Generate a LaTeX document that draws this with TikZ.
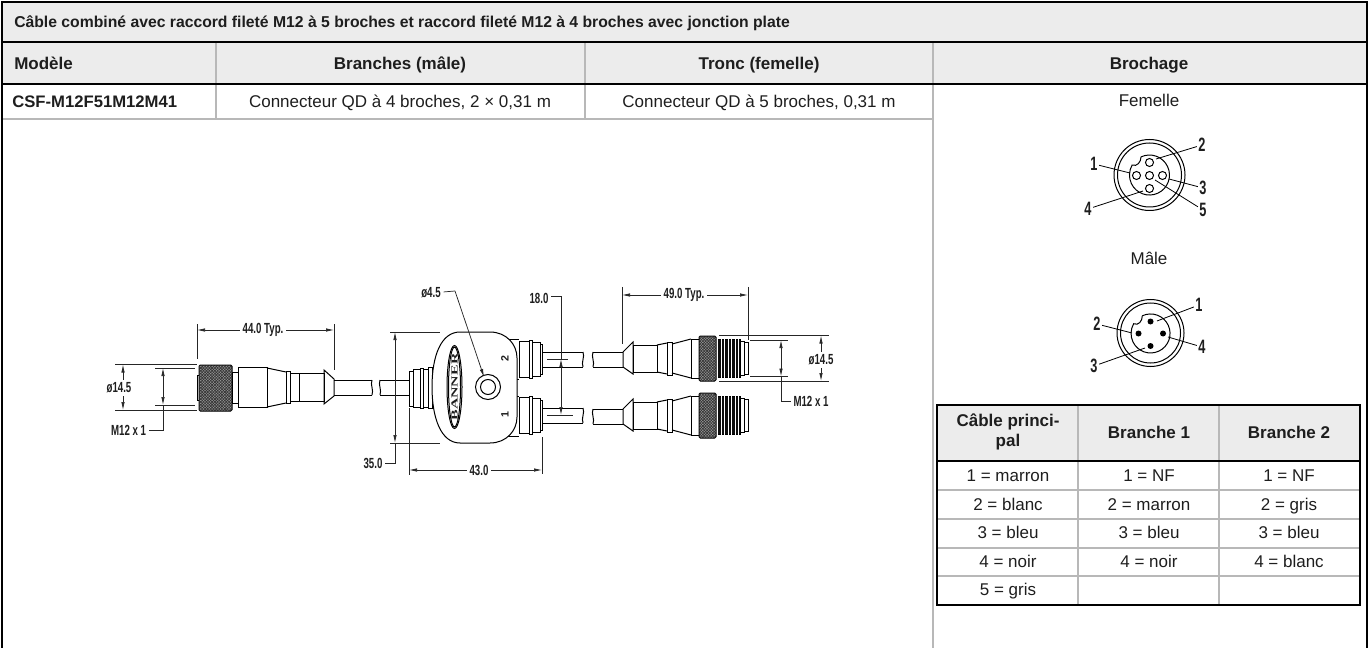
\documentclass[tikz,border=0pt]{standalone}
\usepackage{fontspec}
\setmainfont{Liberation Sans}
\newfontfamily\dimfont[FakeStretch=0.66]{Liberation Sans}
\newfontfamily\logofont[FakeStretch=1.7]{Liberation Serif}
\usepackage{xcolor}
\usepackage{tikz}
\usetikzlibrary{arrows.meta}
\usetikzlibrary{patterns.meta}
\definecolor{bandgray}{HTML}{ECECEC}
\definecolor{rulegray}{HTML}{B8B8B8}
\definecolor{inkgray}{HTML}{1E1E1E}

\begin{document}
\begin{tikzpicture}[x=0.75pt,y=-0.75pt,
      every node/.style={inner sep=1.5pt, text=inkgray, font=\fontsize{12.75}{15}\selectfont},
      cell/.style={anchor=base},
      head/.style={font=\fontsize{12.75}{15}\selectfont\bfseries},
      heavy/.style={line width=2.2pt, black},
      soft/.style={line width=1.4pt, rulegray},
      part/.style={line width=0.75pt, black},
      dim/.style={line width=0.55pt, black!85},
      dimtip/.style={dim, -{Latex[length=6pt,width=2.6pt]}},
      dimtips/.style={dim, {Latex[length=6pt,width=2.6pt]}-{Latex[length=6pt,width=2.6pt]}},
      dimtext/.style={inner sep=2pt, font=\fontsize{11}{12}\dimfont\bfseries},
      pinno/.style={inner sep=1pt, font=\fontsize{14.5}{15}\dimfont\bfseries},
      pinline/.style={line width=0.6pt, black},
      knurl/.style={part, rounded corners=1pt, preaction={fill=black!40},
        pattern={Lines[angle=45,distance=1.5pt,line width=0.5pt]}, pattern color=black!80,
        postaction={pattern={Lines[angle=-45,distance=1.5pt,line width=0.5pt]}, pattern color=black!80}},
      thread/.style={part, fill=black!95,
        postaction={pattern={Lines[angle=90,distance=2.6pt,line width=0.25pt]}, pattern color=white}},
      % connector on the far end of a branch
      malecord/.pic={
        \draw[part] (593,352) -- (623,352) (593,367) -- (623,367);
        \draw[part] (593,352) .. controls (591,357) and (595,362) .. (593,367);
        \draw[part] (623,352) -- (633,342) -- (633,374) -- (623,367) -- cycle;
        \draw[part] (633,345) rectangle (657,372);
        \draw[part] (657,345) -- (667,343) (657,372) -- (667,374);
        \draw[part] (667,342) rectangle (672,375);
        \draw[part] (672,344) -- (691,339) (672,373) -- (691,378);
        \draw[part] (691,339) rectangle (699,378);
        \draw[knurl] (699,336) rectangle (716,381);
        \draw[thread] (717,339) rectangle (740,377);
        \draw[part] (740,341) rectangle (744,375);
        \draw[part] (744,342) rectangle (748,374);
      },
      % socket on the junction with its stub of cable
      hubplug/.pic={
        \draw[part] (542,352) -- (583,352) (542,367) -- (583,367);
        \draw[part] (583,352) .. controls (585,357) and (581,362) .. (583,367);
        \draw[part] (519,341) rectangle (529,377);
        \draw[part] (529,340) rectangle (532,378);
        \draw[part] (532,342) rectangle (540,376);
        \draw[part] (540,344) rectangle (542,374);
      }]

      \useasboundingbox (0,0) rectangle (1369,648);

      % table
      \fill[bandgray] (2,2) rectangle (1367,84);
      \draw[soft] (216,43) -- (216,119);
      \draw[soft] (585,43) -- (585,119);
      \draw[soft] (933,43) -- (933,648);
      \draw[soft] (2,119) -- (933,119);
      \draw[heavy] (2,648) -- (2,2) -- (1367,2) -- (1367,648);
      \draw[heavy] (2,42) -- (1367,42);
      \draw[heavy] (2,84) -- (1367,84);

      \node[anchor=base west, font=\fontsize{11.8}{14}\selectfont\bfseries] (title) at (12,28) {Câble combiné avec raccord fileté M12 à 5 broches et raccord fileté M12 à 4 broches avec jonction plate};
      \node[head, anchor=base west] (modele) at (12,69.5) {Modèle};
      \node[head, cell] (branches) at (400,69.5) {Branches (mâle)};
      \node[head, cell] (tronc) at (759,69.5) {Tronc (femelle)};
      \node[head, cell] (brochage) at (1149,69.5) {Brochage};
      \node[anchor=base west, font=\fontsize{12.5}{15}\selectfont\bfseries] (ref) at (10,108) {CSF-M12F51M12M41};
      \node[cell] (qd4) at (400,108) {Connecteur QD à 4 broches, 2 × 0,31 m};
      \node[cell] (qd5) at (759,108) {Connecteur QD à 5 broches, 0,31 m};
      \node[cell] (femelle) at (1149,106.5) {Femelle};
      \node[cell] (male) at (1149,264.5) {Mâle};

      % colour table
      \fill[bandgray] (937,405) rectangle (1360,461);
      \draw[soft] (1078,405) -- (1078,605);
      \draw[soft] (1219,405) -- (1219,605);
      \draw[soft] (937,490) -- (1360,490);
      \draw[soft] (937,519) -- (1360,519);
      \draw[soft] (937,548) -- (1360,548);
      \draw[soft] (937,576) -- (1360,576);
      \draw[heavy] (937,405) rectangle (1360,605);
      \draw[heavy] (937,461) -- (1360,461);

      \node[head, align=center] (main) at (1008,432) {Câble princi-\\pal};
      \node[head, cell] (bone) at (1149,438) {Branche 1};
      \node[head, cell] (btwo) at (1289,438) {Branche 2};
      \node[cell] (m1) at (1008,481.5) {1 = marron};
      \node[cell] (m2) at (1008,510) {2 = blanc};
      \node[cell] (m3) at (1008,538.5) {3 = bleu};
      \node[cell] (m4) at (1008,567) {4 = noir};
      \node[cell] (m5) at (1008,595.5) {5 = gris};
      \node[cell] (a1) at (1149,481.5) {1 = NF};
      \node[cell] (a2) at (1149,510) {2 = marron};
      \node[cell] (a3) at (1149,538.5) {3 = bleu};
      \node[cell] (a4) at (1149,567) {4 = noir};
      \node[cell] (b1) at (1289,481.5) {1 = NF};
      \node[cell] (b2) at (1289,510) {2 = gris};
      \node[cell] (b3) at (1289,538.5) {3 = bleu};
      \node[cell] (b4) at (1289,567) {4 = blanc};

      % female face
      \draw[part] (1149.5,175) circle (35.5);
      \draw[part] (1149.5,175) circle (32);
      \draw[part] (1141,156.9) arc (-115:210:20) .. controls (1137,167) and (1141,162) .. (1141,156.9);
      \draw[part] (1149.5,162.5) circle (4);
      \draw[part] (1136.5,175.5) circle (4);
      \draw[part] (1149.5,175.5) circle (4);
      \draw[part] (1162.5,175.5) circle (4);
      \draw[part] (1149.5,188.5) circle (4);

      \node[pinno] (f1) at (1094,164) {1};
      \node[pinno] (f2) at (1202,145) {2};
      \node[pinno] (f3) at (1203,188) {3};
      \node[pinno] (f4) at (1088,209) {4};
      \node[pinno] (f5) at (1203,210) {5};
      \coordinate (fp1) at (1130,173);
      \coordinate (fp2) at (1156,159);
      \coordinate (fp3) at (1169,179);
      \coordinate (fp4) at (1143,191);
      \coordinate (fp5) at (1155,180);
      \path[pinline]
        (f1) edge (fp1)
        (f2) edge (fp2)
        (f3) edge (fp3)
        (f4) edge (fp4)
        (f5) edge (fp5)
        ;

      % male face
      \draw[part] (1150.5,333) circle (33.5);
      \draw[part] (1150.5,333) circle (30);
      \draw[part] (1142.3,315.8) arc (-115:210:19.5) .. controls (1138.5,326) and (1142.3,321) .. (1142.3,315.8);
      \fill[black] (1150.5,321.5) circle (3);
      \fill[black] (1138.5,333.5) circle (3);
      \fill[black] (1163,333.5) circle (3);
      \fill[black] (1150.5,346) circle (3);

      \node[pinno] (p1) at (1199,305) {1};
      \node[pinno] (p2) at (1097,324) {2};
      \node[pinno] (p3) at (1094,366) {3};
      \node[pinno] (p4) at (1202,347) {4};
      \coordinate (pp1) at (1157,321);
      \coordinate (pp2) at (1132,333);
      \coordinate (pp3) at (1145,348);
      \coordinate (pp4) at (1168,337);
      \path[pinline]
        (p1) edge (pp1)
        (p2) edge (pp2)
        (p3) edge (pp3)
        (p4) edge (pp4)
        ;

      % trunk connector
      \draw[part] (197,375) rectangle (199,400);
      \draw[knurl] (199,365) rectangle (232,411);
      \draw[part] (232,372) rectangle (238,403);
      \draw[part] (238,367) rectangle (267,407);
      \draw[part] (267,368) -- (286,372) (267,407) -- (286,403);
      \draw[part] (286,371) rectangle (290,403);
      \draw[part] (290,373.5) rectangle (299,401);
      \draw[part] (299,373.5) rectangle (324,401);
      \draw[part] (324,370) -- (334,379) -- (334,396) -- (324,404) -- cycle;
      \draw[part] (334,380) -- (372,380) (334,395) -- (372,395);
      \draw[part] (372,380) .. controls (370,385) and (374,390) .. (372,395);

      % trunk stub and its socket
      \draw[part] (380,380) -- (409,380) (380,395) -- (409,395);
      \draw[part] (380,380) .. controls (378,385) and (382,390) .. (380,395);
      \draw[part] (409,371) rectangle (413,406);
      \draw[part] (413,369) rectangle (420,407);
      \draw[part] (420,368) rectangle (423,408);
      \draw[part] (423,369) rectangle (428,407);
      \draw[part] (428,367) rectangle (432,408);

      % junction body
      \draw[part] (505,339) -- (519,339) (516,379) -- (519,379);
      \draw[part] (516,396) -- (519,396) (505,436) -- (519,436);
      \draw[part, fill=white] (460,332) -- (490,332) .. controls (506,332) and (517,344) .. (517,358)
        -- (517,417) .. controls (517,431) and (506,443) .. (490,443) -- (460,443)
        .. controls (441,443) and (432,418) .. (432,387) .. controls (432,356) and (441,332) .. (460,332) -- cycle;
      \draw[part] (454.5,387) ellipse (7.5 and 41.5);
      \draw[part] (454.5,387) ellipse (6 and 40);
      \node[rotate=90, inner sep=0pt, font=\fontsize{7}{8}\logofont\bfseries] (logo) at (454.5,387) {BANNER};
      \draw[part] (488,387) circle (12.5);
      \draw[part] (488,387) circle (7.5);
      \node[rotate=90, inner sep=0pt, font=\fontsize{8}{8}\selectfont\bfseries] (two) at (505,359) {2};
      \node[rotate=90, inner sep=0pt, font=\fontsize{8}{8}\selectfont\bfseries] (one) at (505,415) {1};

      \pic at (0,0) {hubplug};
      \pic at (0,56) {hubplug};
      \pic at (0,0) {malecord};
      \pic at (0,57) {malecord};

      % dimensions, trunk side
      \node[dimtext] (d44) at (263,330) {44.0 Typ.};
      \coordinate (d44l) at (197,330);
      \coordinate (d44r) at (334,330);
      \draw[dim] (197,324) -- (197,359);
      \draw[dim] (334,324) -- (334,370);
      \draw[dimtip] (d44) -- (d44l);
      \draw[dimtip] (d44) -- (d44r);

      \node[dimtext] (dl145) at (119,388) {ø14.5};
      \coordinate (dl145t) at (123,364.5);
      \coordinate (dl145b) at (123,410);
      \draw[dim] (115,364.5) -- (197,364.5);
      \draw[dim] (115,410.5) -- (197,410.5);
      \draw[dimtip] (dl145.north -| dl145t) -- (dl145t);
      \draw[dimtip] (dl145.south -| dl145b) -- (dl145b);

      \node[dimtext, anchor=east] (dlm12) at (149,430) {M12 x 1};
      \coordinate (dlm12c) at (163,430);
      \coordinate (dlm12t) at (163,368);
      \coordinate (dlm12b) at (163,405);
      \draw[dim] (155,368) -- (195,368);
      \draw[dim] (155,405) -- (195,405);
      \draw[dimtips] (dlm12t) -- (dlm12b);
      \draw[dim] (dlm12) -- (dlm12c) -- (dlm12b);

      \node[dimtext] (d35) at (373,463) {35.0};
      \coordinate (d35c) at (395,463);
      \coordinate (d35t) at (395,332);
      \coordinate (d35b) at (395,443);
      \draw[dim] (390,332) -- (440,332);
      \draw[dim] (390,443) -- (440,443);
      \draw[dimtips] (d35t) -- (d35b);
      \draw[dim] (d35) -- (d35c) -- (d35b);

      \node[dimtext] (d43) at (479,470) {43.0};
      \coordinate (d43l) at (409,470);
      \coordinate (d43r) at (542,470);
      \draw[dim] (409,408) -- (409,475);
      \draw[dim] (542,437) -- (542,474);
      \draw[dimtip] (d43) -- (d43l);
      \draw[dimtip] (d43) -- (d43r);

      \node[dimtext] (d45) at (431,293) {ø4.5};
      \coordinate (d45k) at (455,291);
      \coordinate (d45e) at (484,377);
      \draw[dim] (d45) -- (d45k);
      \draw[dimtip] (d45k) -- (d45e);

      % dimensions, branch side
      \node[dimtext] (d18) at (539,298) {18.0};
      \coordinate (d18k) at (561,296);
      \coordinate (d18t) at (561,359);
      \coordinate (d18b) at (561,415);
      \draw[dim] (547,359) -- (568,359);
      \draw[dim] (547,415) -- (573,415);
      \draw[dim] (d18.east |- d18k) -- (d18k) -- (d18t);
      \draw[dimtips] (d18t) -- (d18b);

      \node[dimtext] (d49) at (684,295) {49.0 Typ.};
      \coordinate (d49l) at (622,295);
      \coordinate (d49r) at (748,295);
      \draw[dim] (622,287) -- (622,344);
      \draw[dim] (748,287) -- (748,340);
      \draw[dimtip] (d49) -- (d49l);
      \draw[dimtip] (d49) -- (d49r);

      \node[dimtext] (dr145) at (821,360) {ø14.5};
      \coordinate (dr145t) at (821,335.5);
      \coordinate (dr145b) at (821,381);
      \draw[dim] (719,335.5) -- (829,335.5);
      \draw[dim] (719,381) -- (829,381);
      \draw[dimtip] (dr145.north) -- (dr145t);
      \draw[dimtip] (dr145.south) -- (dr145b);

      \node[dimtext] (drm12) at (811,401) {M12 x 1};
      \coordinate (drm12c) at (781,401);
      \coordinate (drm12t) at (781,340);
      \coordinate (drm12b) at (781,376.5);
      \draw[dim] (750,340) -- (788,340);
      \draw[dim] (750,376.5) -- (788,376.5);
      \draw[dimtips] (drm12t) -- (drm12b);
      \draw[dim] (drm12) -- (drm12c) -- (drm12b);

    \end{tikzpicture}
\end{document}
